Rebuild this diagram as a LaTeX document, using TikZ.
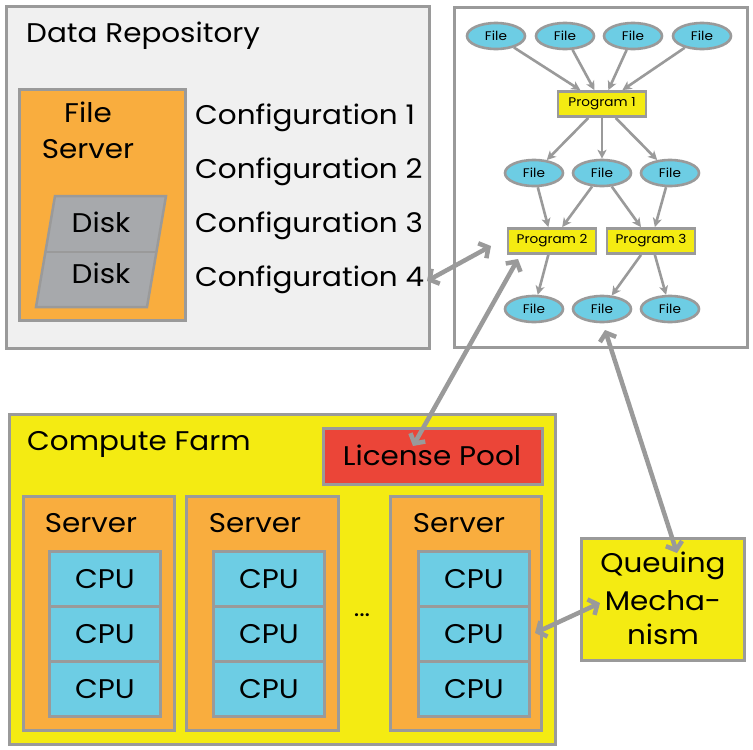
\documentclass[tikz,border=0pt]{standalone}
\usepackage{fontspec}
\setmainfont{Poppins}[FakeStretch=1.09]
\usetikzlibrary{arrows.meta,shapes.geometric}
\definecolor{bord}{HTML}{9A9A9A}
\definecolor{repo}{HTML}{F0F0F0}
\definecolor{orng}{HTML}{F9AD3E}
\definecolor{cpub}{HTML}{6DCDE4}
\definecolor{yel}{HTML}{F4EB12}
\definecolor{lred}{HTML}{EB4538}
\definecolor{diskc}{HTML}{A7A9AC}
\begin{document}
\begin{tikzpicture}[x=1pt,y=-1pt,
  box/.style={draw=bord,line width=3pt,anchor=north west,inner sep=0pt},
  big/.style={font=\fontsize{27}{30}\selectfont},
  fileell/.style={ellipse,draw=bord,line width=2.6pt,fill=cpub,minimum width=58,minimum height=26,inner sep=0pt,font=\fontsize{12.5}{13}\selectfont},
  prog/.style={rectangle,draw=bord,line width=2.8pt,fill=yel,minimum width=88,minimum height=25,inner sep=0pt,font=\fontsize{12.5}{13}\selectfont},
  garrow/.style={draw=bord,line width=2.6pt,-{Stealth[length=9pt,width=9pt,inset=2.5pt]}},
  bigarrow/.style={draw=bord,line width=4.5pt,{Straight Barb[length=7pt,width=17pt]}-{Straight Barb[length=7pt,width=17pt]}},
  cpubox/.style={box,fill=cpub,minimum width=111,minimum height=55},
  srvbox/.style={box,fill=orng,minimum height=234}]
\useasboundingbox (0,0) rectangle (753,750);
% Data repository
\node[box,fill=repo,minimum width=423,minimum height=342] (repo) at (5,5) {};
\node[big,anchor=base west,inner sep=0pt] (repot) at (26,42) {Data Repository};
\node[box,fill=orng,minimum width=166,minimum height=231] (fs) at (18,88) {};
\node[big,anchor=base,inner sep=0pt] (fst1) at (88,122) {File};
\node[big,anchor=base,inner sep=0pt] (fst2) at (88,158) {Server};
\draw[draw=bord,line width=2.5pt,fill=diskc,line join=miter] (55,196) -- (166,196) -- (147,307) -- (36,307) -- cycle;
\draw[draw=bord,line width=2.5pt] (45.4,252) -- (156.4,252);
\node[big,anchor=base,inner sep=0pt] (d1) at (101,232) {Disk};
\node[big,anchor=base,inner sep=0pt] (d2) at (101,283) {Disk};
\node[big,anchor=base west,inner sep=0pt] (cf1) at (195,124) {Configuration 1};
\node[big,anchor=base west,inner sep=0pt] (cf2) at (195,178) {Configuration 2};
\node[big,anchor=base west,inner sep=0pt] (cf3) at (195,232) {Configuration 3};
\node[big,anchor=base west,inner sep=0pt] (cf4) at (195,286) {Configuration 4};
% Graph
\node[box,fill=white,minimum width=293,minimum height=340] (gbox) at (453,6) {};
\node[fileell] (f1) at (496,36) {File};
\node[fileell] (f2) at (565,36) {File};
\node[fileell] (f3) at (633,36) {File};
\node[fileell] (f4) at (702,36) {File};
\node[prog] (p1) at (602,104) {Program 1};
\node[fileell] (g1) at (534,173) {File};
\node[fileell] (g2) at (602,173) {File};
\node[fileell] (g3) at (670,173) {File};
\node[prog] (p2) at (552,241) {Program 2};
\node[prog] (p3) at (651,241) {Program 3};
\node[fileell] (h1) at (534,309) {File};
\node[fileell] (h2) at (602,309) {File};
\node[fileell] (h3) at (670,309) {File};
\foreach \a in {f1,f2,f3,f4} \draw[garrow] (\a) -- (p1);
\foreach \b in {g1,g2,g3} \draw[garrow] (p1) -- (\b);
\draw[garrow] (g1) -- (p2);
\draw[garrow] (g2) -- (p2);
\draw[garrow] (g2) -- (p3);
\draw[garrow] (g3) -- (p3);
\draw[garrow] (p2) -- (h1);
\draw[garrow] (p3) -- (h2);
\draw[garrow] (p3) -- (h3);
% Compute farm
\node[box,fill=yel,minimum width=546,minimum height=330] (farm) at (8,413) {};
\node[big,anchor=base west,inner sep=0pt] (farmt) at (27,450) {Compute Farm};
\node[box,fill=lred,minimum width=219,minimum height=56] (lic) at (322,427) {};
\node[big,anchor=base,inner sep=0pt] (lict) at (432,465) {License Pool};
\node[srvbox,minimum width=151] (s1) at (22,495) {};
\node[srvbox,minimum width=152] (s2) at (185,495) {};
\node[srvbox,minimum width=151] (s3) at (389,495) {};
\node[big,anchor=base,inner sep=0pt] (s1t) at (91,532) {Server};
\node[big,anchor=base,inner sep=0pt] (s2t) at (255,532) {Server};
\node[big,anchor=base,inner sep=0pt] (s3t) at (459,532) {Server};
\foreach \n/\x in {1/48,2/212,3/417}{
  \node[cpubox] (c\n a) at (\x,550) {};
  \node[cpubox] (c\n b) at (\x,605) {};
  \node[cpubox] (c\n c) at (\x,660) {};
  \node[big,inner sep=0pt] at (c\n a.center) {CPU};
  \node[big,inner sep=0pt] at (c\n b.center) {CPU};
  \node[big,inner sep=0pt] at (c\n c.center) {CPU};
}
\node[font=\fontsize{24}{26}\selectfont,anchor=base,inner sep=0pt] (dots) at (362,616) {...};
\node[box,fill=yel,minimum width=163,minimum height=122] (q) at (580,537) {};
\node[big,anchor=base,inner sep=0pt] (q1) at (663,572) {Queuing};
\node[big,anchor=base,inner sep=0pt] (q2) at (663,610) {Mecha-};
\node[big,anchor=base,inner sep=0pt] (q3) at (663,644) {nism};
% big arrows
\coordinate (a1s) at (427,281);
\coordinate (a1e) at (491,246);
\coordinate (a2s) at (413,446);
\coordinate (a2e) at (518,259);
\coordinate (a3s) at (605,330);
\coordinate (a3e) at (677,553);
\coordinate (a4s) at (600,603);
\coordinate (a4e) at (535,633);
\draw[bigarrow] (a1s) -- (a1e);
\draw[bigarrow] (a2s) -- (a2e);
\draw[bigarrow] (a3s) -- (a3e);
\draw[bigarrow] (a4s) -- (a4e);
\end{tikzpicture}
\end{document}
